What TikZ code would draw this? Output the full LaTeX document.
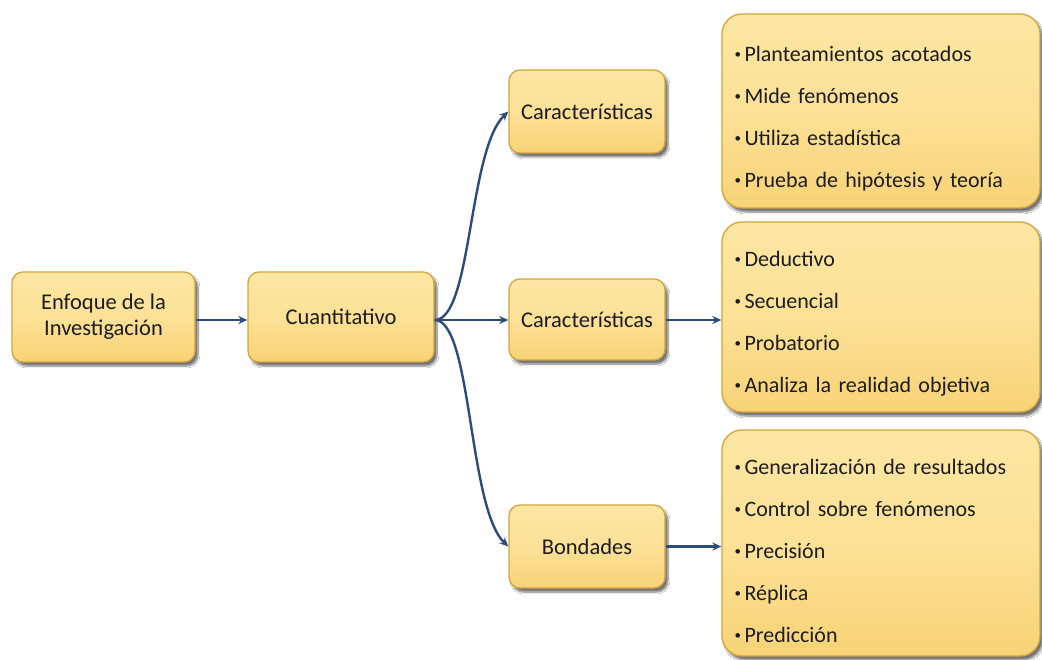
\documentclass[tikz,border=0pt]{standalone}
\usepackage{fontspec}
\setmainfont{Carlito}
\usetikzlibrary{arrows.meta,shadows.blur}

\definecolor{boxtop}{HTML}{FDE7A3}
\definecolor{boxmid}{HTML}{FCE197}
\definecolor{boxbot}{HTML}{F8D376}
\definecolor{boxedge}{HTML}{D4A53A}
\definecolor{linkblue}{HTML}{2E4B7E}
\definecolor{ink}{HTML}{1C1C1C}

\newcommand{\itm}{\raisebox{3pt}{\fontsize{13}{13}\selectfont\textbullet}\kern3.5pt}

\tikzset{
  panel/.style={draw=boxedge, line width=1.3pt, rounded corners=11pt,
    top color=boxtop, bottom color=boxbot, middle color=boxmid,
    blur shadow={shadow xshift=3pt, shadow yshift=-4pt, shadow blur steps=6, shadow opacity=55},
    align=center, inner sep=4pt, text=ink, font=\fontsize{22.5}{26}\selectfont},
  listbox/.style={panel, rounded corners=20pt},
  listtext/.style={align=left, inner sep=0pt, text=ink, text width=300pt,
    font=\fontsize{22}{42}\selectfont},
  link/.style={draw=linkblue, line width=2.4pt, -{Stealth[length=9pt,width=8pt]}}
}

\begin{document}
\begin{tikzpicture}[x=1pt,y=-1pt]
\useasboundingbox[fill=white] (0,0) rectangle (1042,660);

% main chain
\node[panel, minimum width=183pt, minimum height=90pt] (enfoque) at (103.5,317) {Enfoque de la\\Investigación};
\node[panel, minimum width=186pt, minimum height=90pt] (cuanti) at (341,317) {Cuantitativo};

% second level
\node[panel, minimum width=156pt, minimum height=83pt] (caracA) at (587,111.5) {Características};
\node[panel, minimum width=156pt, minimum height=81pt] (caracB) at (587,319.5) {Características};
\node[panel, minimum width=156pt, minimum height=83pt] (bond) at (587,546.5) {Bondades};

% detail lists: frame first, then the bullet text
\node[listbox, minimum width=318pt, minimum height=194pt] (listA) at (881,111) {};
\node[listtext, anchor=west] (listAtxt) at ([xshift=13pt,yshift=-8pt]listA.west)
  {\itm Planteamientos acotados\\
   \itm Mide fenómenos\\
   \itm Utiliza estadística\\
   \itm Prueba de hipótesis y teoría};
\node[listbox, minimum width=318pt, minimum height=190pt] (listB) at (881,317) {};
\node[listtext, anchor=west] (listBtxt) at ([xshift=13pt,yshift=-7pt]listB.west)
  {\itm Deductivo\\
   \itm Secuencial\\
   \itm Probatorio\\
   \itm Analiza la realidad objetiva};
\node[listbox, minimum width=318pt, minimum height=226pt] (listC) at (881,543) {};
\node[listtext, anchor=west] (listCtxt) at ([xshift=13pt,yshift=-8pt]listC.west)
  {\itm Generalización de resultados\\
   \itm Control sobre fenómenos\\
   \itm Precisión\\
   \itm Réplica\\
   \itm Predicción};

% connectors
\draw[link] (enfoque.east |- 0,320) -- (cuanti.west |- 0,320);
\draw[link] (cuanti.east |- 0,320) .. controls (472,320) and (468,150) .. (caracA.west);
\draw[link] (cuanti.east |- 0,320) -- (caracB.west |- 0,320);
\draw[link] (cuanti.east |- 0,320) .. controls (472,320) and (468,508) .. (bond.west);
\draw[link] (caracB.east |- 0,320) -- (listB.west |- 0,320);
\draw[link] (bond.east) -- (listC.west |- bond.east);
\end{tikzpicture}
\end{document}
